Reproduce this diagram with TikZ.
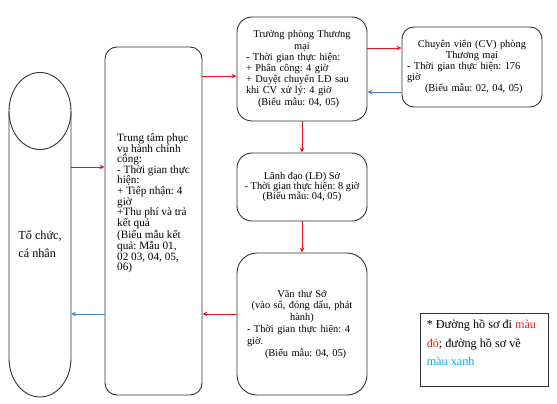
\documentclass[tikz,border=0pt]{standalone}
\usepackage{fontspec}
\setmainfont{Liberation Serif}
\usetikzlibrary{arrows.meta}
\definecolor{boxgray}{RGB}{50,50,50}
\definecolor{arrred}{RGB}{230,20,30}
\definecolor{arrblue}{RGB}{70,130,200}
\definecolor{txtred}{RGB}{240,30,30}
\definecolor{txtblue}{RGB}{0,170,235}
\frenchspacing
\begin{document}
\frenchspacing
\begin{tikzpicture}[x=1pt,y=-1pt,
  box/.style={draw=boxgray, line width=0.9pt, rounded corners=#1, inner sep=0pt},
  box/.default=14pt,
  sfont/.style={font=\fontsize{10.4}{11.2}\selectfont},
  ra/.style={draw=arrred, line width=0.9pt, -{Stealth[length=5pt,width=4.5pt]}},
  ba/.style={draw=arrblue, line width=0.9pt, -{Stealth[length=5pt,width=4.5pt]}},
  outline/.style={draw=boxgray, line width=0.9pt}]
\useasboundingbox (0,0) rectangle (557,404);

% cylinder "To chuc, ca nhan"
\draw[outline] (40,111) ellipse [x radius=31, y radius=38.5];
\draw[outline] (9,111) -- (9,358.5)
  .. controls (9,379.8) and (22.9,397) .. (40,397)
  .. controls (57.1,397) and (71,379.8) .. (71,358.5) -- (71,111);
\node[font=\fontsize{12.2}{18}\selectfont, align=left, minimum width=62pt,
      minimum height=300pt, inner sep=0pt] (org) at (40,244) {Tổ chức,\\cá nhân};

% Trung tam phuc vu hanh chinh cong
\node[box=12pt, minimum width=97pt, minimum height=348pt] (tt) at (153.5,221) {};
\node[font=\fontsize{11.2}{10.6}\selectfont, align=left, inner sep=0pt] (tttext) at (153.5,203.5)
 {Trung tâm phục\\vụ hành chính\\công:\\- Thời gian thực\\hiện:\\+ Tiếp nhận: 4\\giờ\\+Thu phí và trả\\kết quả\\(Biểu mẫu kết\\quả: Mẫu 01,\\02 03, 04, 05,\\06)};

% Truong phong Thuong mai
\node[box=15pt, sfont, minimum width=130pt, minimum height=104pt, text width=112pt] (tp) at (302,69)
 {\centering Trưởng phòng Thương\\mại\par
  \raggedright - Thời gian thực hiện:\\+ Phân công: 4 giờ\\+ Duyệt chuyển LĐ sau\\khi CV xử lý: 4 giờ\\\hspace*{12pt}(Biểu mẫu: 04, 05)\par};

% Chuyen vien
\node[box=12pt, sfont, minimum width=140pt, minimum height=80pt, text width=130pt] (cv) at (472,67)
 {\centering Chuyên viên (CV) phòng\\Thương mại\par
  \raggedright - Thời gian thực hiện: 176\\giờ\\\hspace*{18pt}(Biểu mẫu: 02, 04, 05)\par};

% Lanh dao So
\node[box=15pt, font=\fontsize{10.4}{10.3}\selectfont, minimum width=130pt, minimum height=68pt, align=center] (ld) at (302,187)
 {Lãnh đạo (LĐ) Sở\\- Thời gian thực hiện: 8 giờ\\(Biểu mẫu: 04, 05)};

% Van thu So
\node[box=20pt, font=\fontsize{10.4}{11.8}\selectfont, minimum width=130pt, minimum height=142pt, text width=110pt] (vt) at (302,324)
 {\centering Văn thư Sở\\(vào sổ, đóng dấu, phát\\hành)\par
  \raggedright - Thời gian thực hiện: 4\\giờ.\\\hspace*{18pt}(Biểu mẫu: 04, 05)\par};

% note
\node[draw=boxgray, line width=0.9pt, minimum width=128pt, minimum height=73pt, inner sep=0pt] (note) at (484,349.5) {};
\node[anchor=north west, font=\fontsize{12.2}{18.5}\selectfont, align=left, inner sep=0pt] (notetxt)
  at ([xshift=7pt,yshift=-7pt]note.north west)
 {* Đường hồ sơ đi \textcolor{txtred}{màu}\\\textcolor{txtred}{đỏ}; đường hồ sơ về\\\textcolor{txtblue}{màu xanh}};

% levels
\coordinate (l48) at (0,48);
\coordinate (l76) at (0,76);
\coordinate (l92) at (0,92);
\coordinate (l167) at (0,167);
\coordinate (l314) at (0,314);

% connectors
\draw[ra] (org.east |- l167) -- (tt.west |- l167);
\draw[ra] (tt.east |- l76) -- (tp.west |- l76);
\draw[ra] (tp.east |- l48) -- (cv.west |- l48);
\draw[ba] (cv.west |- l92) -- (tp.east |- l92);
\draw[ra] (tp.south) -- (ld.north);
\draw[ra] (ld.south) -- (vt.north);
\draw[ra] (vt.west |- l314) -- (tt.east |- l314);
\draw[ba] (tt.west |- l314) -- (org.east |- l314);
\end{tikzpicture}
\end{document}
